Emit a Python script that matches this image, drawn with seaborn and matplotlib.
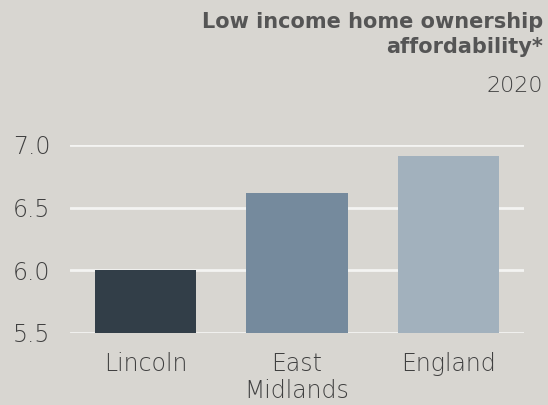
import numpy as np
import pandas as pd
import seaborn as sns
import matplotlib.pyplot as plt

areas = ["Lincoln", "East\nMidlands", "England"]
ratio = [6.00, 6.62, 6.91]
bar_colours = ["#323e48", "#758a9d", "#a2b1bd"]

bg = "#d8d6d1"
txt = "#555555"

sns.set_style("white")
plt.rcParams['font.family'] = ['DejaVu Sans']

df = pd.DataFrame({"area": areas, "ratio": ratio})

fig = plt.figure(figsize=(5.48, 4.05), dpi=100, facecolor=bg)
ax = fig.add_axes([70 / 548, 1 - 333 / 405, 454 / 548, 188 / 405])
ax.set_facecolor(bg)

sns.barplot(data=df, x="area", y="ratio", hue="area", palette=bar_colours,
            saturation=1, width=0.67, legend=False, ax=ax, linewidth=0,
            zorder=3)

ax.set_ylim(5.5, 7.0)
ax.set_xlim(-0.5, 2.5)
ax.set_yticks([5.5, 6.0, 6.5, 7.0])
ax.set_yticklabels(["5.5", "6.0", "6.5", "7.0"])
ax.grid(axis="y", color="#f4f4f2", linewidth=2, zorder=0)
ax.set_axisbelow(True)
for s in ax.spines.values():
    s.set_visible(False)
ax.tick_params(axis="both", length=0, labelsize=17, labelcolor="#404040")
ax.tick_params(axis="y", pad=14)
ax.tick_params(axis="x", pad=14)
ax.set_xlabel("")
ax.set_ylabel("")
for lbl in ax.get_xticklabels() + ax.get_yticklabels():
    lbl.set_fontweight("light")
for lbl in ax.get_xticklabels():
    lbl.set_linespacing(1.12)

fig.text(543 / 548, 1 - 12 / 405, "Low income home ownership\naffordability*",
         ha="right", va="top", fontsize=15, fontweight="bold", color=txt,
         linespacing=1.3)
fig.text(543 / 548, 1 - 76 / 405, "2020", ha="right", va="top",
         fontsize=16, fontweight="light", color="#404040")

fig.savefig("out.png", dpi=100, facecolor=bg)
